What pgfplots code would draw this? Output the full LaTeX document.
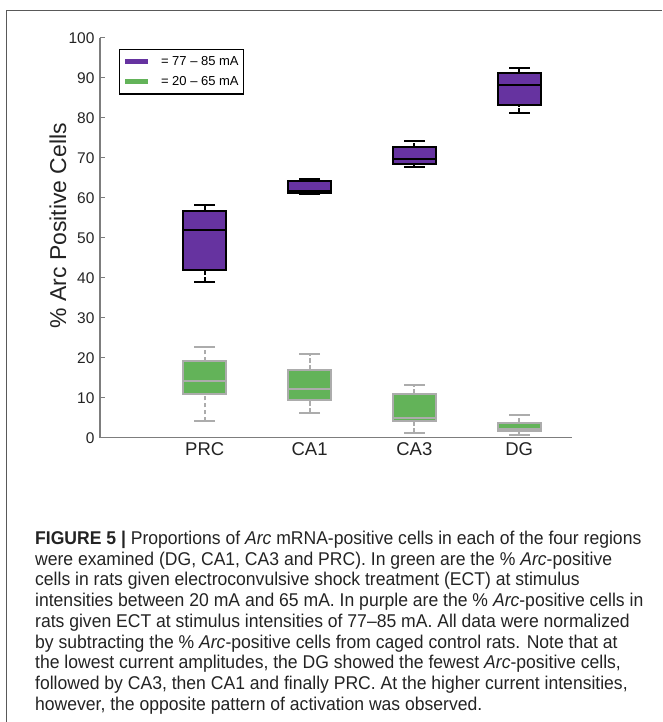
\documentclass[border=0pt]{standalone}
\usepackage{pgfplots}
\pgfplotsset{compat=1.18}
\usepgfplotslibrary{statistics}
\usepackage{fontspec}
\setmainfont{Liberation Sans}
\newfontfamily\capfont{Liberation Sans}[FakeStretch=0.95]
\definecolor{purp}{RGB}{102,51,160}
\definecolor{grn}{RGB}{99,179,89}
\definecolor{lgray}{RGB}{172,172,172}
\definecolor{axgray}{RGB}{125,125,125}
\definecolor{txt}{RGB}{35,35,35}
\pgfplotsset{
  boxplot/draw direction=y,
  boxplot/every whisker/.style={draw=none},
  mybox/.style={forget plot, line width=2pt},
}
\begin{document}
\begin{tikzpicture}
\path (0pt,0pt) rectangle (662pt,-722pt);
\draw[color=black!65, line width=1pt] (662pt,-11pt) -- (7pt,-11pt) -- (7pt,-722pt);
\begin{axis}[
  at={(100pt,-438pt)}, anchor=south west,
  width=472pt, height=400pt, scale only axis,
  xmin=0, xmax=4.5, ymin=0, ymax=100,
  axis x line*=bottom, axis y line*=left,
  axis line style={axgray, line width=1.2pt},
  ytick={0,10,...,100},
  xtick={1,2,3,4}, xticklabels={PRC,CA1,CA3,DG},
  x tick style={draw=none},
  y tick style={axgray, line width=1pt},
  tick align=inside, major tick length=5pt,
  unbounded coords=jump,
  /pgf/number format/assume math mode=true,
  yticklabel style={font=\fontsize{15.5}{18}\selectfont, text=txt, xshift=-2pt},
  xticklabel style={font=\fontsize{18.5}{21}\selectfont, text=txt, yshift=-1pt},
  ylabel={\% Arc Positive Cells},
  ylabel style={font=\fontsize{23}{26}\selectfont, text=txt, at={(axis description cs:-0.089,0.53)}, anchor=center, rotate=0},
  legend style={at={(axis description cs:0.040,0.9725)}, anchor=north west, draw=black, line width=1.5pt,
     font=\fontsize{13}{15}\selectfont, row sep=5pt, inner xsep=3pt, inner ysep=5pt, cells={anchor=west}},
  legend image code/.code={\path[draw=none, fill=none] (0pt,0pt) -- (34pt,0pt); \draw[#1, line width=5pt] (0pt,0pt) -- (23pt,0pt);},
]
\addlegendimage{purp}
\addlegendentry{= 77 -- 85 mA}
\addlegendimage{grn}
\addlegendentry{= 20 -- 65 mA}

% ---------- whiskers (lower whisker -> lower quartile, upper quartile -> upper whisker)
% green: 20-65 mA
\addplot[forget plot, lgray, line width=2pt, dash pattern=on 4.5pt off 2.5pt] coordinates {
 (1,4.1) (1,10.9) (1,nan) (1,19.1) (1,22.7) (1,nan)
 (2,6.2) (2,9.5) (2,nan) (2,17.0) (2,21.0) (2,nan)
 (3,1.3) (3,4.1) (3,nan) (3,11.0) (3,13.2) (3,nan)
 (4,0.7) (4,1.6) (4,nan) (4,3.8) (4,5.6)};
\addplot[forget plot, only marks, mark=-, mark size=10.5pt, mark options={solid, lgray, line width=2pt}] coordinates {
 (1,4.1) (1,22.7) (2,6.2) (2,21.0) (3,1.3) (3,13.2) (4,0.7) (4,5.6)};
% purple: 77-85 mA
\addplot[forget plot, black, line width=2pt, dash pattern=on 5pt off 1.5pt] coordinates {
 (1,39.0) (1,41.9) (1,nan) (1,56.6) (1,58.2) (1,nan)
 (2,61.0) (2,61.3) (2,nan) (2,64.3) (2,64.7) (2,nan)
 (3,67.6) (3,68.5) (3,nan) (3,72.6) (3,74.3) (3,nan)
 (4,81.2) (4,83.3) (4,nan) (4,91.3) (4,92.5)};
\addplot[forget plot, only marks, mark=-, mark size=10.5pt, mark options={solid, black, line width=2pt}] coordinates {
 (1,39.0) (1,58.2) (2,61.0) (2,64.7) (3,67.6) (3,74.3) (4,81.2) (4,92.5)};

% ---------- boxes (quartiles and medians)
\addplot[mybox, fill=grn, draw=lgray,
  boxplot prepared={draw position=1, lower whisker=10.9, lower quartile=10.9, median=14.3, upper quartile=19.1, upper whisker=19.1, box extend=0.41}]
  coordinates {};
\addplot[mybox, fill=grn, draw=lgray,
  boxplot prepared={draw position=2, lower whisker=9.5, lower quartile=9.5, median=12.1, upper quartile=17.0, upper whisker=17.0, box extend=0.41}]
  coordinates {};
\addplot[mybox, fill=grn, draw=lgray,
  boxplot prepared={draw position=3, lower whisker=4.1, lower quartile=4.1, median=5.0, upper quartile=11.0, upper whisker=11.0, box extend=0.41}]
  coordinates {};
\addplot[mybox, fill=grn, draw=lgray,
  boxplot prepared={draw position=4, lower whisker=1.6, lower quartile=1.6, median=2.2, upper quartile=3.8, upper whisker=3.8, box extend=0.41}]
  coordinates {};

\addplot[mybox, fill=purp, draw=black,
  boxplot prepared={draw position=1, lower whisker=41.9, lower quartile=41.9, median=51.9, upper quartile=56.6, upper whisker=56.6, box extend=0.41}]
  coordinates {};
\addplot[mybox, fill=purp, draw=black,
  boxplot prepared={draw position=2, lower whisker=61.3, lower quartile=61.3, median=61.8, upper quartile=64.3, upper whisker=64.3, box extend=0.41}]
  coordinates {};
\addplot[mybox, fill=purp, draw=black,
  boxplot prepared={draw position=3, lower whisker=68.5, lower quartile=68.5, median=69.6, upper quartile=72.6, upper whisker=72.6, box extend=0.41}]
  coordinates {};
\addplot[mybox, fill=purp, draw=black,
  boxplot prepared={draw position=4, lower whisker=83.3, lower quartile=83.3, median=88.3, upper quartile=91.3, upper whisker=91.3, box extend=0.41}]
  coordinates {};
\end{axis}
\node[anchor=north west, align=left, inner sep=0pt, text=txt,
      font=\capfont\fontsize{18.5}{20.8}\selectfont] at (35pt,-531pt) {%
\textbf{FIGURE 5 |} Proportions of \textit{Arc} mRNA-positive cells in each of the four regions\\
were examined (DG, CA1, CA3 and PRC). In green are the \% \textit{Arc}-positive\\
cells in rats given electroconvulsive shock treatment (ECT) at stimulus\\
intensities between 20 mA and 65 mA. In purple are the \% \textit{Arc}-positive cells in\\
rats given ECT at stimulus intensities of 77–85 mA. All data were normalized\\
by subtracting the \% \textit{Arc}-positive cells from caged control rats. Note that at\\
the lowest current amplitudes, the DG showed the fewest \textit{Arc}-positive cells,\\
followed by CA3, then CA1 and finally PRC. At the higher current intensities,\\
however, the opposite pattern of activation was observed.};
\end{tikzpicture}
\end{document}
